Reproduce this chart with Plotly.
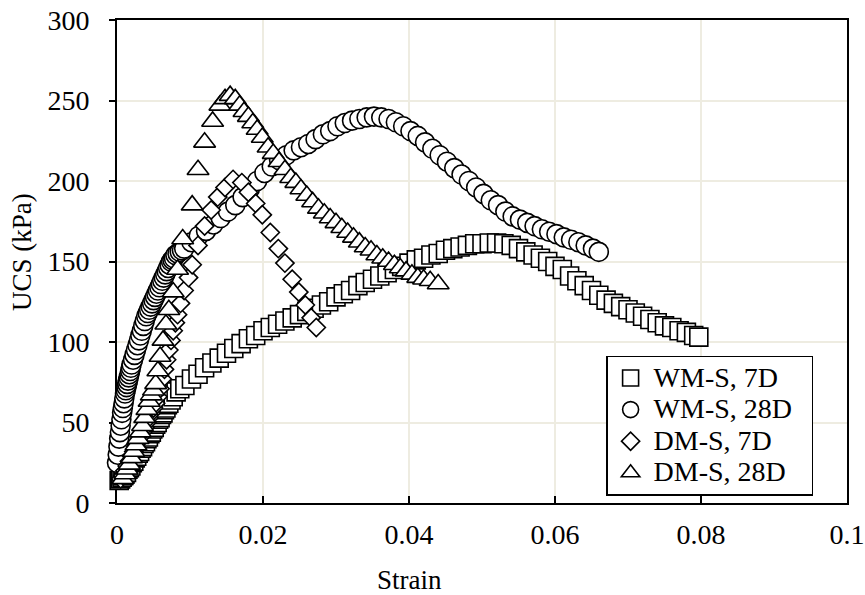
import plotly.graph_objects as go

# ---------------- data ----------------
wm7_x = [0.0003,0.0005,0.0007,0.0009,0.0011,0.0013,0.0015,0.0017,0.0019,0.0021,0.0023,0.0025,0.0027,0.0029,
         0.0031,0.0033,0.0035,0.0037,0.0039,0.0041,0.0043,0.0045,0.0047,0.0049,0.0051,0.0053,0.0055,0.0057,
         0.0059,0.0061,0.0063,0.0065,0.0067,0.0069,0.0071,0.0074,0.0077,0.0081,0.0086,
         0.0093,0.0102,0.0111,0.012,0.013,0.014,0.015,0.016,0.017,0.018,0.019,0.020,0.021,0.022,0.023,0.024,
         0.025,0.026,0.027,0.028,0.029,0.030,0.031,0.032,0.033,0.034,0.035,0.036,0.037,0.038,0.039,0.040,
         0.041,0.042,0.043,0.044,0.045,0.046,0.047,0.048,0.049,0.050,0.051,0.052,0.053,0.054,0.055,0.056,
         0.057,0.058,0.059,0.060,0.061,0.062,0.063,0.064,0.065,0.066,0.067,0.068,0.069,0.070,0.071,0.072,
         0.073,0.074,0.075,0.076,0.077,0.078,0.079,0.0797]
wm7_y = [14,15,16,17,18,19,21,22,23,25,26,28,29,31,
         32,34,35,37,38,40,41,43,44,46,47,49,50,52,
         53,55,56,58,59,61,62,64,66,69,71,
         73,77,80,84,87,90,93,96,99,102,104,107,109,111,113,115,
         117,119,121,123,125,128,130,132,135,137,139,141,143,145,147,149,
         151,152,154,155,157,158,159,160,161,161,161.5,161.5,161,160,158,156,
         154,152,150,147,145,141,138,135,132,129,126,124,122,120,118,116,
         114,112,110,109,107,106,104,103]

wm28_x = [0.0000,0.0001,0.0002,0.0003,0.0004,0.0005,0.0006,0.0007,0.0008,0.0009,0.0010,0.0011,0.0012,0.0013,
          0.0014,0.0015,0.0016,0.0017,0.0018,0.0019,0.0020,0.0022,0.0024,0.0026,0.0028,0.0030,0.0032,0.0034,
          0.0036,0.0038,0.0040,0.0042,0.0044,0.0046,0.0048,0.0050,0.0052,0.0054,0.0056,0.0058,0.0060,0.0062,
          0.0064,0.0066,0.0068,0.0070,0.0072,0.0074,0.0076,0.0078,0.0080,0.0083,0.0086,0.0089,
          0.0092,0.0102,0.0112,0.0122,0.0132,0.0142,0.0152,0.0162,0.0172,0.0182,0.0192,0.0202,0.0212,0.0222,
          0.0232,0.0242,0.0252,0.0262,0.0272,0.0282,0.0292,0.0302,0.0312,0.0322,0.0332,0.0342,0.0352,0.0362,
          0.0372,0.0382,0.0392,0.0402,0.0412,0.0422,0.0432,0.0442,0.0452,0.0462,0.0472,0.0482,0.0492,0.0502,
          0.0512,0.0522,0.0532,0.0542,0.0552,0.0562,0.0572,0.0582,0.0592,0.0602,0.0612,0.0622,0.0632,0.0642,
          0.0652,0.0660]
wm28_y = [25,30,35,40,44,48,52,56,59,62,65,68,70,72,
          74,76,78,80,82,84,86,89,92,95,98,101,104,107,
          110,113,116,118,120,122,124,126,128,130,132,134,136,138,
          140,142,144,146,148,150,151,152,154,155,156,157,
          158,162,166,169,173,177,181,185,190,195,200,205,209,213,
          216,219,221,223,226,229,231,234,236,237.5,238.5,239.5,240,239.5,
          238.5,236.5,234,231,228,224,220,216,212,208,204,200,196,192,
          188,185,181,178,176,174,172,170,168.5,167,165,163.5,162,160,
          158,156]

dm7_x = [0.0005,0.0008,0.0011,0.0014,0.0017,0.0020,0.0023,0.0026,0.0029,0.0032,0.0035,0.0038,0.0041,0.0044,
         0.0047,0.0050,0.0053,0.0056,0.0059,0.0062,0.0065,0.0068,0.0071,0.0074,0.0077,0.0080,0.0083,0.0087,
         0.0092,0.0098,0.0103,0.0111,0.0120,0.0129,0.0138,0.0148,0.0159,0.0171,0.0180,0.0190,0.0199,0.0210,
         0.0221,0.0230,0.0240,0.0249,0.0258,0.0266,0.0273]
dm7_y = [15,17,20,23,26,29,32,35,38,41,44,47,50,53,
         56,59,62,66,71,77,83,89,95,101,107,112,117,124,
         132,140,148,160,172,182,190,196,201,199,193,186,179,168,
         158,149,139,131,123,115,109]

dm28_x = [0.0008,0.0011,0.0014,0.0017,0.0020,0.0023,0.0026,0.0029,0.0032,0.0035,0.0038,0.0041,0.0044,0.0047,
          0.0050,0.0053,0.0056,0.0059,0.0063,0.0067,0.0071,0.0077,0.0083,0.0090,0.0103,0.0111,0.0120,0.0131,
          0.0141,0.0148,0.0155,0.0162,0.0168,0.0174,0.0180,0.0186,0.0192,0.0199,0.0207,0.0214,0.0222,0.0230,
          0.0238,0.0245,0.0252,0.0260,0.0268,0.0276,0.0284,0.0292,0.0300,0.0308,0.0316,0.0324,0.0332,0.0340,
          0.0348,0.0356,0.0364,0.0372,0.0380,0.0388,0.0396,0.0404,0.0412,0.0420,0.0429,0.0440]
dm28_y = [15,18,21,24,28,32,36,40,44,48,53,58,63,67,
          70,74,82,91,101,111,120,131,145,164,185,207,224,237,
          247,251,253,251,247,243,240,236,232,227,221,217,212,207,
          202,199,195,191,187,183,180,177,174,171,168,165,162,159,
          157,154,152,150,148,146,144,142,140,139,138,136]

series_names = ["WM-S, 7D", "WM-S, 28D", "DM-S, 7D", "DM-S, 28D"]
x_ticks = [0, 0.02, 0.04, 0.06, 0.08, 0.1]
x_tick_text = ["0", "0.02", "0.04", "0.06", "0.08", "0.1"]
y_ticks = [0, 50, 100, 150, 200, 250, 300]

# ---------------- figure ----------------
FONT = "Liberation Serif, Times New Roman, serif"
GRID = "#EEECE1"

fig = go.Figure()
specs = [
    (wm7_x, wm7_y, "square", 18),
    (wm28_x, wm28_y, "circle", 19),
    (dm7_x, dm7_y, "diamond", 14),
    (dm28_x, dm28_y, "triangle-up", 19),
]
for (xs, ys, sym, sz), name in zip(specs, series_names):
    fig.add_trace(go.Scatter(
        x=xs, y=ys, mode="markers", cliponaxis=False,
        name='<span style="font-size:28px">' + name + '\u00a0\u00a0</span>',
        marker=dict(symbol=sym, size=sz, color="white",
                    line=dict(color="black", width=1.6)),
    ))

fig.update_layout(
    template="none",
    width=865, height=595,
    margin=dict(l=117, r=18, t=20, b=92),
    plot_bgcolor="white", paper_bgcolor="white",
    font=dict(family=FONT, size=28, color="black"),
    showlegend=True,
    legend=dict(x=0.67, y=0.305, xanchor="left", yanchor="top",
                bgcolor="white", bordercolor="black", borderwidth=1.5,
                font=dict(family=FONT, size=22, color="black"),
                itemwidth=36),
    annotations=[
        dict(text="Strain", xref="paper", yref="paper", x=0.401, y=-0.159,
             xanchor="center", yanchor="middle", showarrow=False,
             font=dict(family=FONT, size=27, color="black")),
        dict(text="UCS (kPa)", xref="paper", yref="paper", x=-0.130, y=0.52,
             xanchor="center", yanchor="middle", showarrow=False, textangle=-90,
             font=dict(family=FONT, size=27, color="black")),
    ],
)
fig.update_xaxes(
    range=[0, 0.1], tickvals=x_ticks, ticktext=x_tick_text, automargin=False,
    showgrid=True, gridcolor=GRID, gridwidth=2, zeroline=False,
    showline=True, linecolor="black", linewidth=2, mirror=True,
    ticks="inside", ticklen=7, tickwidth=1.5, tickcolor="black",
    ticklabelstandoff=5, layer="below traces",
)
fig.update_yaxes(
    range=[0, 300], tickvals=y_ticks, automargin=False,
    showgrid=True, gridcolor=GRID, gridwidth=2, zeroline=False,
    showline=True, linecolor="black", linewidth=2, mirror=True,
    ticks="outside", ticklen=6, tickwidth=1.5, tickcolor="black",
    ticklabelstandoff=14, layer="below traces",
)

fig.write_html(
    "out.html",
    config={"displayModeBar": False},
    post_script="document.body.style.margin='0px';document.body.style.overflow='hidden';",
)
